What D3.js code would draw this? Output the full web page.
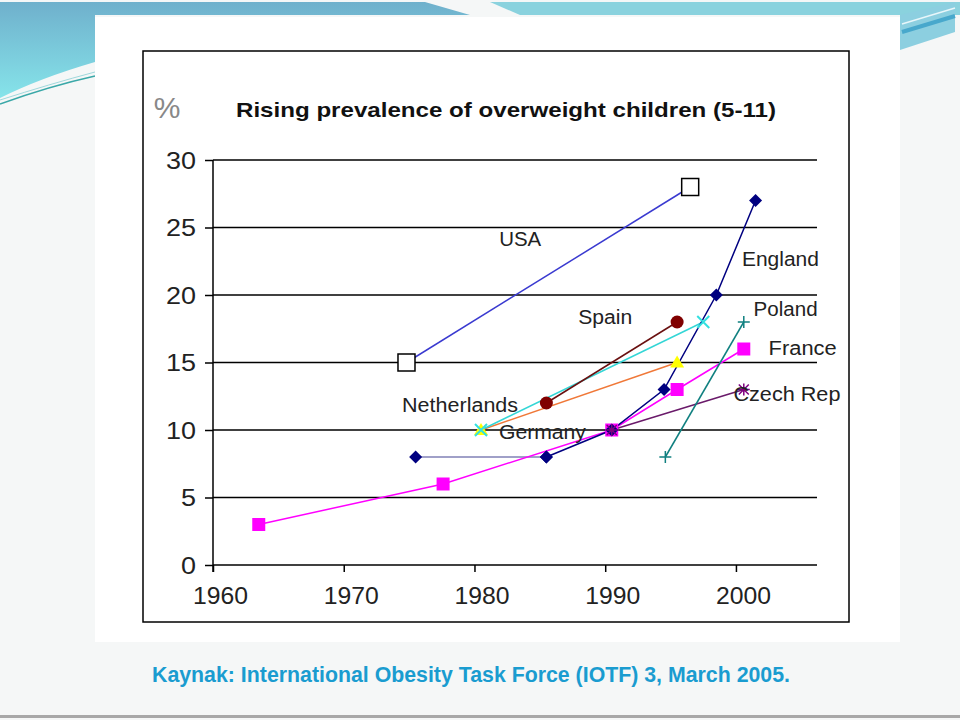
<!DOCTYPE html>
<html><head><meta charset="utf-8">
<script src="https://cdn.jsdelivr.net/npm/d3@7"></script>
<style>body{margin:0;background:#fff}svg{display:block}</style>
</head><body>
<svg id="c" width="960" height="720"></svg>
<script>
// ---- data ----
const xTicks = [1960, 1970, 1980, 1990, 2000];
const yTicks = [0, 5, 10, 15, 20, 25, 30];
const usa = [[1974.8, 15], [1996.5, 28]];
const englandEarly = [[1975.5, 8], [1985.5, 8]];
const england = [[1985.5, 8], [1990.5, 10], [1994.5, 13], [1998.5, 20], [2001.5, 27]];
const spain = [[1985.5, 12], [1995.5, 18]];
const netherlands = [[1980.5, 10], [1997.5, 18]];
const germany = [[1980.5, 10], [1995.5, 15]];
const france = [[1963.5, 3], [1977.6, 6], [1990.5, 10], [1995.5, 13], [2000.6, 16]];
const poland = [[1994.6, 8], [2000.6, 18]];
const czech = [[1990.5, 10], [2000.6, 13]];
const labelNames = ["USA", "England", "Spain", "Poland", "France", "Netherlands", "Germany", "Czech Rep"];
const labelAt = [[1983.5, 24.2], [2003.4, 22.7], [1990.0, 18.4], [2003.8, 19.0], [2005.1, 16.1], [1978.9, 11.9], [1985.2, 9.85], [2003.9, 12.7]];

const svg = d3.select("#c");
const FONT = "Liberation Sans, Arial, sans-serif";

// ---- slide background ----
const defs = svg.append("defs");
const g1 = defs.append("linearGradient").attr("id","lb").attr("x1",0).attr("y1",0).attr("x2",0).attr("y2",1);
g1.append("stop").attr("offset",0).attr("stop-color","#6fb0cc");
g1.append("stop").attr("offset",1).attr("stop-color","#86e4ea");
svg.append("rect").attr("width",960).attr("height",720).attr("fill","#f5f7f7");
svg.append("path").attr("d","M0,2 L425,2 L470,15 L95,15 L95,62 Q40,78 0,98 Z").attr("fill","url(#lb)");
svg.append("path").attr("d","M490,2 L960,2 L960,15 L520,15 Z").attr("fill","#8ad2de");
svg.append("path").attr("d","M0,104 Q50,86 95,76").attr("fill","none").attr("stroke","#3aa8a8").attr("stroke-width",1.5);
svg.append("path").attr("d","M0,100 Q50,84 95,72").attr("fill","none").attr("stroke","#9fd8dc").attr("stroke-width",1);
svg.append("path").attr("d","M900,15 L955,2 L955,32 L900,50 Z").attr("fill","#8ccfe0");
svg.append("path").attr("d","M902,32 L955,16").attr("stroke","#48a8cc").attr("stroke-width",4);
svg.append("path").attr("d","M902,24 L955,8").attr("stroke","#e8f6fa").attr("stroke-width",1.5);
svg.append("rect").attr("x",95).attr("y",17).attr("width",805).attr("height",625).attr("fill","#ffffff");
svg.append("rect").attr("x",0).attr("y",715).attr("width",960).attr("height",3).attr("fill","#a8a8a8");

// ---- chart box ----
svg.append("rect").attr("x",143).attr("y",51).attr("width",706).attr("height",571)
  .attr("fill","#fff").attr("stroke","#000").attr("stroke-width",1.5);

const x = d3.scaleLinear().domain([1960, 2006.2]).range([213, 817]);
const y = d3.scaleLinear().domain([0, 30]).range([565, 160]);

// gridlines + y axis
const yAxis = d3.axisLeft(y).tickValues(yTicks).tickSize(8).tickFormat(d3.format("d"));
const ga = svg.append("g").attr("transform","translate(213,0)").call(yAxis);
ga.select(".domain").remove();
ga.selectAll("line").attr("stroke","#000").attr("stroke-width",1.5).attr("x2",-8);
ga.selectAll("text").attr("font-family",FONT).attr("font-size",23).attr("fill","#222").attr("x",-17).attr("dy","0.36em")
  .attr("textLength",d=>d>=10?30:15).attr("lengthAdjust","spacingAndGlyphs");
svg.append("g").selectAll("line").data(yTicks).join("line")
  .attr("x1",213).attr("x2",817).attr("y1",d=>y(d)).attr("y2",d=>y(d))
  .attr("stroke","#000").attr("stroke-width",1.5);
svg.append("line").attr("x1",213).attr("x2",213).attr("y1",y(30)).attr("y2",572).attr("stroke","#000").attr("stroke-width",1.5);

const xAxis = d3.axisBottom(x).tickValues(xTicks).tickSize(7).tickFormat(d3.format("d"));
const gx = svg.append("g").attr("transform","translate(0,565)").call(xAxis);
gx.select(".domain").remove();
gx.selectAll("line").attr("stroke","#000").attr("stroke-width",1.5);
gx.selectAll("text").attr("font-family",FONT).attr("font-size",23).attr("fill","#222").attr("dx",7).attr("y",23)
  .attr("textLength",55).attr("lengthAdjust","spacingAndGlyphs");

// title
svg.append("text").attr("x",167).attr("y",118).attr("text-anchor","middle")
  .attr("font-family",FONT).attr("font-size",30).attr("fill","#888").text("%");
svg.append("text").attr("x",236).attr("y",117).attr("textLength",540).attr("lengthAdjust","spacingAndGlyphs")
  .attr("font-family",FONT).attr("font-weight","bold").attr("font-size",21).attr("fill","#111")
  .text("Rising prevalence of overweight children (5-11)");

// ---- series ----
const line = d3.line().x(d=>x(d[0])).y(d=>y(d[1]));
function drawLine(data, color, w){
  svg.append("path").datum(data).attr("d",line).attr("fill","none").attr("stroke",color).attr("stroke-width",w||1.5);
}
function markers(data, fn){
  svg.append("g").selectAll("g").data(data).join("g")
    .attr("transform",d=>`translate(${x(d[0])},${y(d[1])})`).each(function(){ fn(d3.select(this)); });
}

drawLine(usa, "#3a3ad0");
drawLine(englandEarly, "#a0a0c8", 2);
drawLine(france, "#ff00ff");
drawLine(czech, "#6a1a6a");
drawLine(germany, "#f07838");
drawLine(netherlands, "#33d6d6");
drawLine(spain, "#6a1010");
drawLine(england, "#000080");
drawLine(poland, "#108080");

const diamond = s => s.append("path").attr("d","M0,-6.5 L6.5,0 L0,6.5 L-6.5,0 Z").attr("fill","#000080");
markers(englandEarly, diamond);
markers(france, s=>s.append("rect").attr("x",-6.5).attr("y",-6.5).attr("width",13).attr("height",13).attr("fill","#ff00ff"));
markers(england, diamond);
markers(germany, s=>s.append("path").attr("d","M0,-7 L7,5 L-7,5 Z").attr("fill","#ffff00"));
markers(netherlands, s=>s.append("path").attr("d","M-6,-6 L6,6 M-6,6 L6,-6").attr("stroke","#33e0e0").attr("stroke-width",2));
markers(spain, s=>s.append("circle").attr("r",6.5).attr("fill","#800000"));
markers(poland, s=>s.append("path").attr("d","M-6,0 L6,0 M0,-6 L0,6").attr("stroke","#108080").attr("stroke-width",1.5));
markers(czech, s=>s.append("path").attr("d","M-6,0 L6,0 M0,-6 L0,6 M-5,-5 L5,5 M-5,5 L5,-5").attr("stroke","#800080").attr("stroke-width",1.5));
markers(usa, s=>s.append("rect").attr("x",-8.5).attr("y",-8.5).attr("width",17).attr("height",17).attr("fill","#fff").attr("stroke","#000").attr("stroke-width",1.5));

// labels
const labelW = [42, 77, 54, 64, 68, 116, 87, 107];
svg.append("g").selectAll("text").data(labelNames).join("text")
  .attr("x",(d,i)=>x(labelAt[i][0])).attr("y",(d,i)=>y(labelAt[i][1])).attr("text-anchor","middle").attr("dy","0.36em")
  .attr("textLength",(d,i)=>labelW[i]).attr("lengthAdjust","spacingAndGlyphs")
  .attr("font-family",FONT).attr("font-size",20).attr("fill","#222").text(d=>d);

// footer
svg.append("text").attr("x",152).attr("y",682).attr("textLength",638).attr("lengthAdjust","spacingAndGlyphs")
  .attr("font-family",FONT).attr("font-weight","bold").attr("font-size",22).attr("fill","#1a9cd0")
  .text("Kaynak: International Obesity Task Force (IOTF) 3, March 2005.");
</script>
</body></html>
